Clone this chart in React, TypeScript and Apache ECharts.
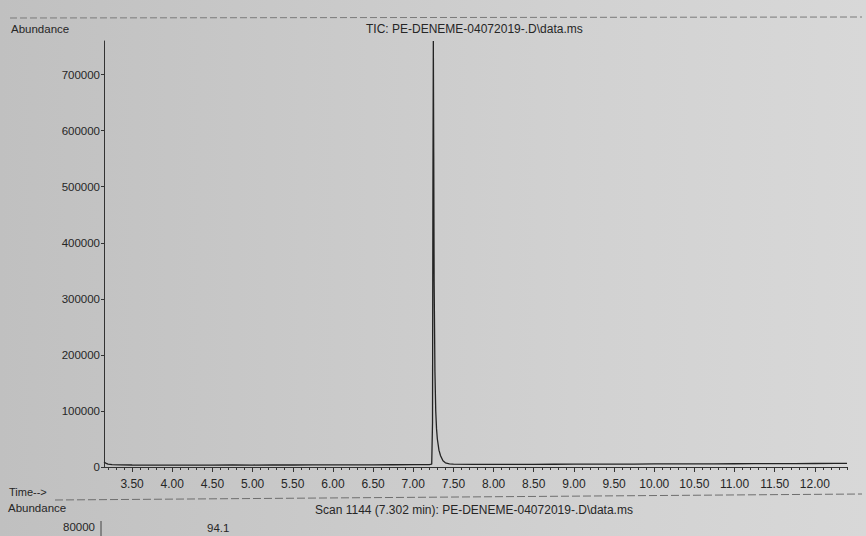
import React, { useEffect, useRef } from "react";
import * as echarts from "echarts";

// Total ion chromatogram (retention time in minutes, abundance in counts)
const RET_TIME = [
  3.15, 3.17, 3.2, 3.25, 3.35, 3.5, 3.75, 4.0, 4.25, 4.5, 4.75, 5.0, 5.25, 5.5,
  5.75, 6.0, 6.25, 6.5, 6.75, 7.0, 7.1, 7.2, 7.23, 7.24, 7.245, 7.25, 7.255,
  7.26, 7.27, 7.28, 7.29, 7.3, 7.32, 7.34, 7.37, 7.4, 7.45, 7.5, 7.75, 8.0,
  8.25, 8.5, 8.75, 9.0, 9.25, 9.5, 9.75, 10.0, 10.25, 10.5, 10.75, 11.0, 11.25,
  11.5, 11.75, 12.0, 12.25, 12.4,
];
const ABUNDANCE = [
  9000, 7000, 5200, 4300, 3900, 3600, 3500, 3400, 3500, 3400, 3600, 3500, 3700,
  3600, 3800, 3700, 3900, 3800, 4000, 4100, 4200, 4400, 5000, 80000, 500000,
  760000, 560000, 330000, 170000, 100000, 68000, 50000, 30000, 20000, 11000,
  7500, 5600, 5000, 4700, 4600, 4700, 4800, 4900, 5000, 5100, 5200, 5300,
  5400, 5500, 5600, 5700, 5800, 5900, 6000, 6100, 6200, 6300, 6400,
];

// Axis tick labels
const Y_TICKS = [0, 100000, 200000, 300000, 400000, 500000, 600000, 700000];
const X_MAJOR = [3.5, 4.0, 4.5, 5.0, 5.5, 6.0, 6.5, 7.0, 7.5, 8.0, 8.5, 9.0, 9.5, 10.0, 10.5, 11.0, 11.5, 12.0];

const X_MIN = 3.15;
const X_MAX = 12.4;
const Y_MAX = 760000;

const FONT = "'Liberation Sans', Arial, Helvetica, sans-serif";
const INK = "#262626";

export default function App() {
  const ref = useRef<HTMLDivElement>(null);

  useEffect(() => {
    if (!ref.current) return;
    document.body.style.margin = "0";
    const chart = echarts.init(ref.current, undefined, { renderer: "svg" });

    // minor ticks every 0.1 min between the labelled ones
    const minor: number[] = [];
    for (let i = 32; i <= 124; i++) {
      if (i % 5 !== 0) minor.push(i / 10);
    }

    const series = RET_TIME.map((t, i) => [t, ABUNDANCE[i]]);

    chart.setOption({
      animation: false,
      backgroundColor: "transparent",
      grid: { left: 104, right: 19, top: 41, bottom: 69, containLabel: false },
      xAxis: [
        {
          type: "value",
          min: X_MIN,
          max: X_MAX,
          axisLine: { show: true, onZero: false, lineStyle: { color: "#333", width: 1 } },
          axisTick: { show: true, length: 5, customValues: X_MAJOR, lineStyle: { color: "#333" } },
          axisLabel: {
            show: true,
            customValues: X_MAJOR,
            formatter: (v: number) => v.toFixed(2),
            color: INK,
            fontFamily: FONT,
            fontSize: 12,
            margin: 11,
          },
          splitLine: { show: false },
        },
        {
          type: "value",
          position: "bottom",
          min: X_MIN,
          max: X_MAX,
          axisLine: { show: false },
          axisTick: { show: true, length: 3, customValues: minor, lineStyle: { color: "#333" } },
          axisLabel: { show: false },
          splitLine: { show: false },
        },
      ],
      yAxis: {
        type: "value",
        min: 0,
        max: Y_MAX,
        axisLine: { show: true, lineStyle: { color: "#333", width: 1 } },
        axisTick: { show: true, length: 3, customValues: Y_TICKS, lineStyle: { color: "#333" } },
        axisLabel: {
          customValues: Y_TICKS,
          formatter: (v: number) => String(v),
          color: INK,
          fontFamily: FONT,
          fontSize: 11.5,
          margin: 4,
        },
        splitLine: { show: false },
      },
      series: [
        {
          type: "line",
          xAxisIndex: 0,
          data: series,
          showSymbol: false,
          lineStyle: { color: "#232323", width: 1.3 },
          clip: true,
        },
      ],
      graphic: [
        {
          type: "line",
          shape: { x1: 10, y1: 18, x2: 862, y2: 17 },
          style: { stroke: "#7a7a7a", lineWidth: 1, lineDash: [7, 3] },
        },
        {
          type: "text",
          left: 11,
          top: 23,
          style: { text: "Abundance", fill: INK, font: `11.5px ${FONT}` },
        },
        {
          type: "text",
          left: 366,
          top: 23,
          style: { text: "TIC: PE-DENEME-04072019-.D\\data.ms", fill: INK, font: `12px ${FONT}` },
        },
        {
          type: "text",
          left: 9,
          top: 486,
          style: { text: "Time-->", fill: INK, font: `11px ${FONT}` },
        },
        {
          type: "line",
          shape: { x1: 55, y1: 500, x2: 862, y2: 494 },
          style: { stroke: "#6e6e6e", lineWidth: 1, lineDash: [8, 3] },
        },
        {
          type: "text",
          left: 8,
          top: 502,
          style: { text: "Abundance", fill: INK, font: `11.5px ${FONT}` },
        },
        {
          type: "text",
          left: 315,
          top: 504,
          style: {
            text: "Scan 1144 (7.302 min): PE-DENEME-04072019-.D\\data.ms",
            fill: INK,
            font: `12px ${FONT}`,
          },
        },
        {
          type: "text",
          left: 63,
          top: 521,
          style: { text: "80000", fill: INK, font: `11.5px ${FONT}` },
        },
        {
          type: "line",
          shape: { x1: 101, y1: 521, x2: 101, y2: 536 },
          style: { stroke: "#444", lineWidth: 1 },
        },
        {
          type: "text",
          left: 207,
          top: 522,
          style: { text: "94.1", fill: INK, font: `11.5px ${FONT}` },
        },
      ],
    });

    return () => chart.dispose();
  }, []);

  return (
    <div
      ref={ref}
      style={{
        position: "fixed",
        left: 0,
        top: 0,
        width: 866,
        height: 536,
        background:
          "linear-gradient(90deg, #c0c0c0 0%, #c9c9c9 35%, #d2d2d2 70%, #d8d8d8 100%)",
      }}
    />
  );
}
